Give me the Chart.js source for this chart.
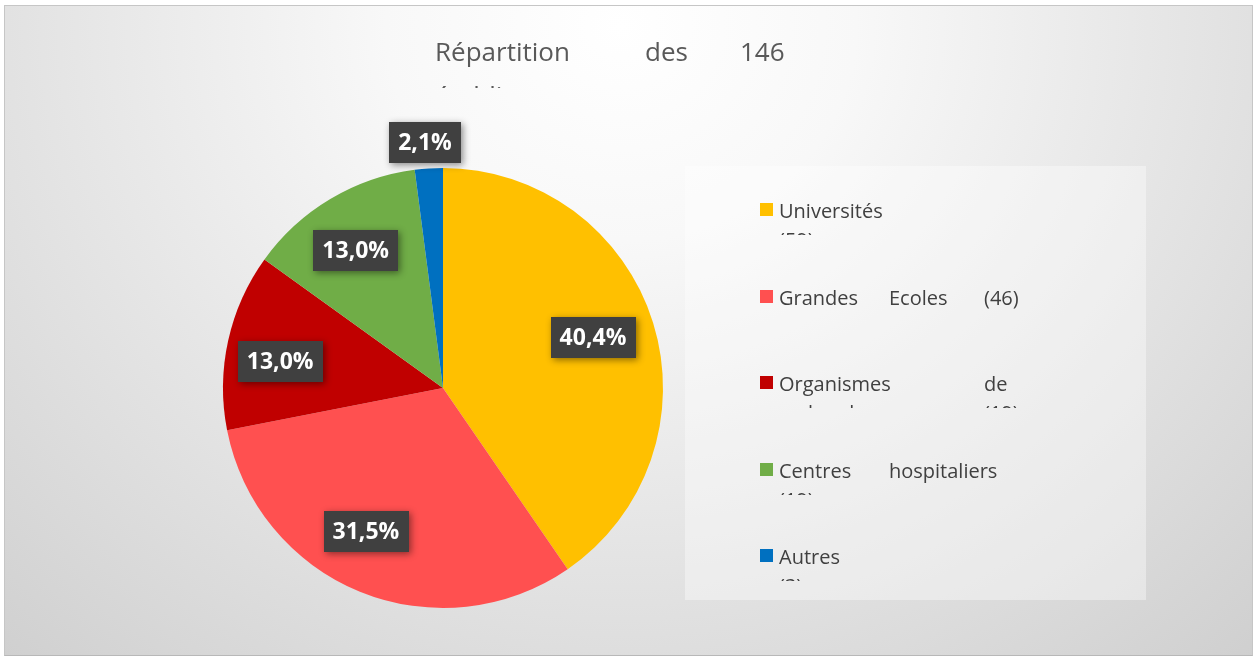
<!DOCTYPE html>
<html>
<head>
<meta charset="utf-8">
<script src="https://cdn.jsdelivr.net/npm/chart.js@4.4.1/dist/chart.umd.min.js"></script>
<style>
html,body{margin:0;padding:0;width:1253px;height:657px;overflow:hidden;background:#ffffff;font-family:"Open Sans",sans-serif;}
#frame{position:absolute;left:4px;top:5px;width:1249px;height:651px;box-sizing:border-box;
  border:1px solid #c6c6c6;border-bottom-color:#b8b8b8;
  background:radial-gradient(ellipse 940px 860px at 616px 20px,#ffffff 0%,#f8f8f8 25%,#cfcfcf 100%);}
#chart{position:absolute;left:0;top:0;}
#title{position:absolute;left:0;top:36px;width:1253px;height:52px;overflow:hidden;color:#595959;font-size:26px;line-height:30px;}
#title span,.legItem span.w{position:absolute;white-space:nowrap;}
#legendBox{position:absolute;left:685px;top:166px;width:461px;height:434px;background:rgba(255,255,255,0.38);}
.legItem{position:absolute;left:0;width:461px;height:39px;overflow:hidden;color:#404040;font-size:20px;line-height:29px;}
.legItem .mk{position:absolute;left:75px;top:7px;width:13px;height:13px;}
</style>
</head>
<body>
<div id="frame"></div>
<canvas id="chart" width="1253" height="657"></canvas>
<div id="title"></div>
<div id="legendBox"></div>
<script>
// ---- data ----
const titleText = 'Répartition des 146 établissements';
const categories = ['Universités', 'Grandes Ecoles', 'Organismes de recherche', 'Centres hospitaliers', 'Autres'];
const counts = [59, 46, 19, 19, 3];
const colors = ['#FFC000', '#FF5050', '#C00000', '#70AD47', '#0070C0'];

// ---- presentation (layout of the justified, clipped texts) ----
const titleCols = [435, 645, 740];
const titleSlots = [[0,0],[0,1],[0,2],[1,0]];
const legendCols = [94, 204, 299];   // relative to legend box
const legendSlots = [
  [[0,0],[1,0]],
  [[0,0],[0,1],[0,2]],
  [[0,0],[0,2],[1,0],[1,2]],
  [[0,0],[0,1],[1,0]],
  [[0,0],[1,0]]
];
const labelRadius = [0.72, 0.742, 0.75, 0.74, 1.117];
const labelAngleShift = [-1.5, 6, -3, -1.6, -0.5]; // degrees

const total = counts.reduce((a, b) => a + b, 0);
const fmtPct = v => (v / total * 100).toFixed(1).replace('.', ',') + '%';

// title
const tEl = document.getElementById('title');
titleText.split(' ').forEach((w, i) => {
  const s = titleSlots[i]; if (!s) return;
  const sp = document.createElement('span');
  sp.textContent = w;
  sp.style.left = titleCols[s[1]] + 'px';
  sp.style.top = (s[0] * 44) + 'px';
  tEl.appendChild(sp);
});

// data labels plugin
const pctLabels = {
  id: 'pctLabels',
  afterDatasetsDraw(chart) {
    const ctx = chart.ctx;
    const meta = chart.getDatasetMeta(0);
    ctx.save();
    ctx.font = 'bold 23px "Open Sans"';
    ctx.textAlign = 'center';
    ctx.textBaseline = 'middle';
    meta.data.forEach((arc, i) => {
      const p = arc.getProps(['x', 'y', 'startAngle', 'endAngle', 'outerRadius'], true);
      const mid = (p.startAngle + p.endAngle) / 2 + labelAngleShift[i] * Math.PI / 180;
      const r = p.outerRadius * labelRadius[i];
      const cx = p.x + Math.cos(mid) * r;
      const cy = p.y + Math.sin(mid) * r;
      const txt = fmtPct(chart.data.datasets[0].data[i]);
      const w = ctx.measureText(txt).width + 18;
      const h = 41;
      ctx.save();
      ctx.shadowColor = 'rgba(0,0,0,0.45)';
      ctx.shadowBlur = 7;
      ctx.shadowOffsetX = 2;
      ctx.shadowOffsetY = 2;
      ctx.fillStyle = '#404040';
      ctx.fillRect(Math.round(cx - w / 2), Math.round(cy - h / 2), Math.round(w), h);
      ctx.restore();
      ctx.fillStyle = '#ffffff';
      ctx.fillText(txt, cx, cy + 1);
    });
    ctx.restore();
  }
};

const chart = new Chart(document.getElementById('chart'), {
  type: 'pie',
  data: {
    labels: categories,
    datasets: [{ data: counts, backgroundColor: colors, borderWidth: 0, hoverOffset: 0, offset: 0 }]
  },
  options: {
    responsive: false,
    animation: false,
    events: [],
    layout: { padding: { left: 223, right: 590, top: 168, bottom: 49 } },
    plugins: { legend: { display: false }, tooltip: { enabled: false }, title: { display: false } }
  },
  plugins: [pctLabels]
});

// legend built from the chart's data
const lb = document.getElementById('legendBox');
chart.data.labels.forEach((name, i) => {
  const item = document.createElement('div');
  item.className = 'legItem';
  const baseline = 52 + i * 86.5;
  item.style.top = (baseline - 22) + 'px';
  const mk = document.createElement('div');
  mk.className = 'mk';
  mk.style.background = chart.data.datasets[0].backgroundColor[i];
  item.appendChild(mk);
  const words = (name + ' (' + chart.data.datasets[0].data[i] + ')').split(' ');
  words.forEach((w, k) => {
    const s = legendSlots[i][k]; if (!s) return;
    const sp = document.createElement('span');
    sp.className = 'w';
    sp.textContent = w;
    sp.style.left = legendCols[s[1]] + 'px';
    sp.style.top = (s[0] * 29) + 'px';
    item.appendChild(sp);
  });
  lb.appendChild(item);
});
</script>
</body>
</html>
